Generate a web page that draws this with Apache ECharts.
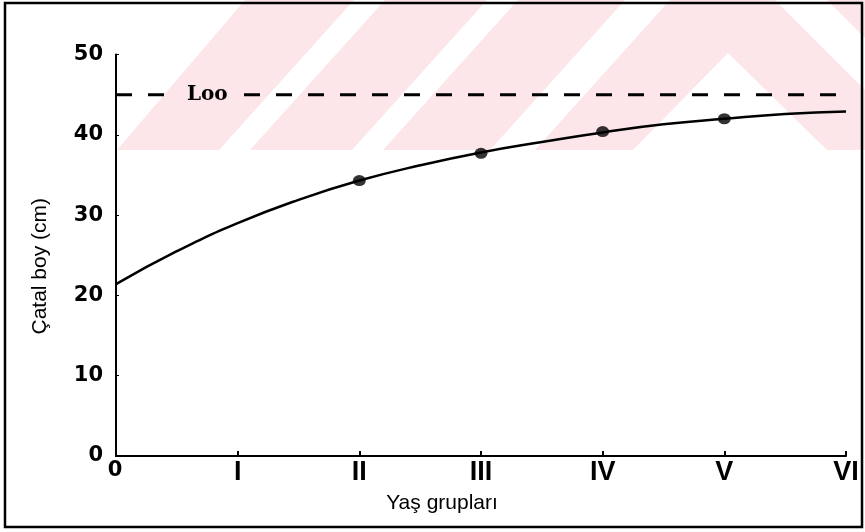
<!DOCTYPE html>
<html>
<head>
<meta charset="utf-8">
<script src="https://cdn.jsdelivr.net/npm/echarts@6/dist/echarts.min.js"></script>
<style>html,body{margin:0;padding:0;background:#fff}#c{width:865px;height:532px}</style>
</head>
<body>
<div id="c"></div>
<script>
// ---- data ----
const ageTicks = ['0', 'I', 'II', 'III', 'IV', 'V', 'VI'];
const curveAge = [0, 0.5, 1, 1.5, 2, 2.5, 3, 3.5, 4, 4.5, 5, 5.5, 6];
const curveLength = [21.4, 25.5, 29.0, 31.9, 34.3, 36.2, 37.8, 39.1, 40.3, 41.3, 42.0, 42.6, 42.9];
const obsAge = [2, 3, 4, 5];
const obsLength = [34.3, 37.7, 40.4, 42.0];
const Linf = 45;
const linfLabel = 'Loo';
const linfLabelAge = 0.75;

const pink = '#fce6ea';
const chart = echarts.init(document.getElementById('c'));

function poly(points, fill) {
  return { type: 'polygon', z: -100, silent: true, shape: { points: points }, style: { fill: fill } };
}

const gridLeft = 116, gridBottom = 76, H = 532;

chart.setOption({
  animation: false,
  backgroundColor: '#fff',
  graphic: [
    { type: 'rect', z: -101, silent: true, shape: { x: 117, y: 0, width: 748, height: 150 }, style: { fill: pink } },
    poly([[117, 0], [245, 0], [117, 150]], '#fff'),
    poly([[219, 150], [250, 150], [385, 0], [354, 0]], '#fff'),
    poly([[352, 150], [383, 150], [518, 0], [487, 0]], '#fff'),
    poly([[490, 150], [535, 150], [670, 0], [625, 0]], '#fff'),
    poly([[728, 53], [633, 150], [827, 150]], '#fff'),
    poly([[775, 0], [827, 0], [865, 38], [865, 90]], '#fff'),
    { type: 'rect', z: 100, silent: true, shape: { x: 5, y: 3, width: 857, height: 524 }, style: { fill: 'none', stroke: '#000', lineWidth: 2.5 } },
    // first x tick label (age 0), drawn in the numeric style of the y labels
    { type: 'text', z: 50, silent: true, x: gridLeft - 1, y: H - gridBottom + 4,
      style: { text: ageTicks[0], font: 'bold 21px "DejaVu Sans"', fill: '#000', align: 'center', verticalAlign: 'top' } }
  ],
  grid: { left: gridLeft, right: 19, top: 54.5, bottom: gridBottom, containLabel: false },
  xAxis: {
    type: 'value', min: 0, max: 6, interval: 1,
    name: 'Yaş grupları', nameLocation: 'middle', nameGap: 37,
    nameTextStyle: { fontFamily: 'Liberation Sans', fontSize: 21, color: '#000', padding: [0, 78, 0, 0] },
    axisLine: { show: true, onZero: false, lineStyle: { color: '#000', width: 2 } },
    axisTick: { show: true, inside: true, length: 5, lineStyle: { color: '#000', width: 2 } },
    splitLine: { show: false },
    axisLabel: {
      margin: 3,
      fontFamily: 'Liberation Sans', fontWeight: 'bold', fontSize: 27, color: '#000',
      formatter: function (v) {
        const i = Math.round(Number(v));
        return i === 0 ? '' : ageTicks[i];
      }
    }
  },
  yAxis: {
    type: 'value', min: 0, max: 50, interval: 10,
    name: 'Çatal boy (cm)', nameLocation: 'middle', nameGap: 65,
    nameTextStyle: { fontFamily: 'Liberation Sans', fontSize: 21, color: '#000', padding: [0, 22, 0, 0] },
    axisLine: { show: true, lineStyle: { color: '#000', width: 2 } },
    axisTick: { show: true, inside: true, length: 3, lineStyle: { color: '#000', width: 1 } },
    splitLine: { show: false },
    axisLabel: { margin: 13, fontFamily: 'DejaVu Sans', fontWeight: 'bold', fontSize: 21, color: '#000' }
  },
  series: [
    {
      type: 'line', name: 'Loo',
      data: [[0, Linf], [6, Linf]],
      symbol: 'none', silent: true,
      lineStyle: { color: '#000', width: 3, type: [16, 16], dashOffset: 0 },
      markPoint: {
        silent: true,
        symbol: 'rect', symbolSize: [56, 20],
        itemStyle: { color: pink },
        label: { show: true, position: 'inside', formatter: linfLabel, fontFamily: 'DejaVu Serif', fontWeight: 'bold', fontSize: 20, color: '#000' },
        data: [{ coord: [linfLabelAge, Linf] }]
      }
    },
    {
      type: 'line', name: 'curve',
      data: curveAge.map((a, i) => [a, curveLength[i]]),
      smooth: true, symbol: 'none', silent: true,
      lineStyle: { color: '#000', width: 2.5 }
    },
    {
      type: 'scatter', name: 'obs',
      data: obsAge.map((a, i) => [a, obsLength[i]]),
      symbol: 'circle', symbolSize: [13, 11],
      itemStyle: { color: '#000' }, z: 5
    }
  ]
});
</script>
</body>
</html>
